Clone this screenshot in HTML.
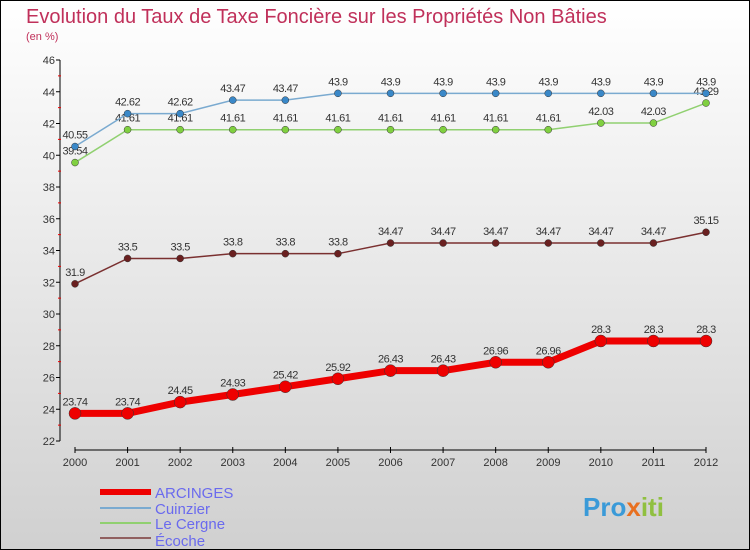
<!DOCTYPE html>
<html><head><meta charset="utf-8"><style>
body{margin:0}
svg{display:block;font-family:"Liberation Sans",sans-serif}
</style></head><body>
<svg id="c" width="750" height="550">
<defs><linearGradient id="bg" x1="0" y1="0" x2="0" y2="1"><stop offset="0" stop-color="#ffffff"/><stop offset="1" stop-color="#d0d0d0"/></linearGradient></defs>
<rect x="0.5" y="0.5" width="749" height="549" fill="url(#bg)" stroke="#000"/>
<text x="26" y="23" font-size="20" fill="#c0305a">Evolution du Taux de Taxe Foncière sur les Propriétés Non Bâties</text>
<text x="26" y="40" font-size="11" fill="#c0305a">(en %)</text>
<g id="axes"></g><g id="series"></g>
<g>
<line x1="100" y1="492" x2="151" y2="492" stroke="#ee0000" stroke-width="6"/>
<text x="155" y="498" font-size="15" fill="#6a6aee">ARCINGES</text>
<line x1="100" y1="508" x2="151" y2="508" stroke="#7aaad0" stroke-width="2"/>
<text x="155" y="514" font-size="15" fill="#6a6aee">Cuinzier</text>
<line x1="100" y1="523" x2="151" y2="523" stroke="#90d070" stroke-width="2"/>
<text x="155" y="529" font-size="15" fill="#6a6aee">Le Cergne</text>
<line x1="100" y1="538" x2="151" y2="538" stroke="#906060" stroke-width="2"/>
<text x="155" y="546" font-size="15" fill="#6a6aee">Écoche</text>
</g>
<text x="583" y="516" font-size="26" font-weight="bold" fill="#3a9ad8">Pro<tspan fill="#e87020">x</tspan><tspan fill="#90c040">iti</tspan></text>
</svg>
<script>
const years=[2000,2001,2002,2003,2004,2005,2006,2007,2008,2009,2010,2011,2012];
const yTicks=[22,24,26,28,30,32,34,36,38,40,42,44,46];
const arcinges=[23.74,23.74,24.45,24.93,25.42,25.92,26.43,26.43,26.96,26.96,28.3,28.3,28.3];
const cuinzier=[40.55,42.62,42.62,43.47,43.47,43.9,43.9,43.9,43.9,43.9,43.9,43.9,43.9];
const cergne=[39.54,41.61,41.61,41.61,41.61,41.61,41.61,41.61,41.61,41.61,42.03,42.03,43.29];
const ecoche=[31.9,33.5,33.5,33.8,33.8,33.8,34.47,34.47,34.47,34.47,34.47,34.47,35.15];
const NS="http://www.w3.org/2000/svg";
const X=i=>75+i*(706-75)/(years.length-1);
const Y=v=>441-(v-22)*(441-60)/24;
function mk(t,a,p){const e=document.createElementNS(NS,t);for(const k in a)e.setAttribute(k,a[k]);p.appendChild(e);return e;}
const ax=document.getElementById('axes');
const ya=mk('line',{x1:60,y1:60,x2:60,y2:441,stroke:'#000'},ax);


yTicks.forEach((v,i)=>{
 mk('line',{x1:56,y1:Y(v),x2:60,y2:Y(v),stroke:'#000'},ax);
 if(i<yTicks.length-1)mk('line',{x1:58,y1:Y(v+1),x2:61,y2:Y(v+1),stroke:'#e00'},ax);
 const t=mk('text',{x:55,y:Y(v)+4,'font-size':11,fill:'#333','text-anchor':'end'},ax);t.textContent=v;
 
 
});
const xa=mk('line',{x1:75,y1:450,x2:706,y2:450,stroke:'#000'},ax);


years.forEach((y,i)=>{
 mk('line',{x1:X(i),y1:447,x2:X(i),y2:453,stroke:'#000'},ax);
 const t=mk('text',{x:X(i),y:466,'font-size':11,fill:'#333','text-anchor':'middle'},ax);t.textContent=y;
 
 
});
const sg=document.getElementById('series');
function series(vals,name,col,dot,w,r,lo){
 const g=mk('g',{},sg);
 
 
 mk('polyline',{points:vals.map((v,i)=>X(i)+','+Y(v)).join(' '),fill:'none',stroke:col,'stroke-width':w},g);
 vals.forEach((v,i)=>{
  const c=mk('circle',{cx:X(i),cy:Y(v),r:r,fill:dot,stroke:'#333','stroke-width':0.5},g);
  
  
  const t=mk('text',{x:X(i),y:Y(v)-(lo?-4:8),'font-size':11,fill:'#333','text-anchor':'middle','letter-spacing':'-0.5'},g);t.textContent=v;
 });
}
series(ecoche,'ecoche-series','#7a3030','#6a2020',1.5,3.5);
series(cergne,'le-cergne-series','#90d070','#80d040',1.5,3.5,false);
series(cuinzier,'cuinzier-series','#7aaad0','#3a88c8',1.5,3.5);
series(arcinges,'arcinges-series','#ee0000','#ee0000',7,6);
</script>
</body></html>
